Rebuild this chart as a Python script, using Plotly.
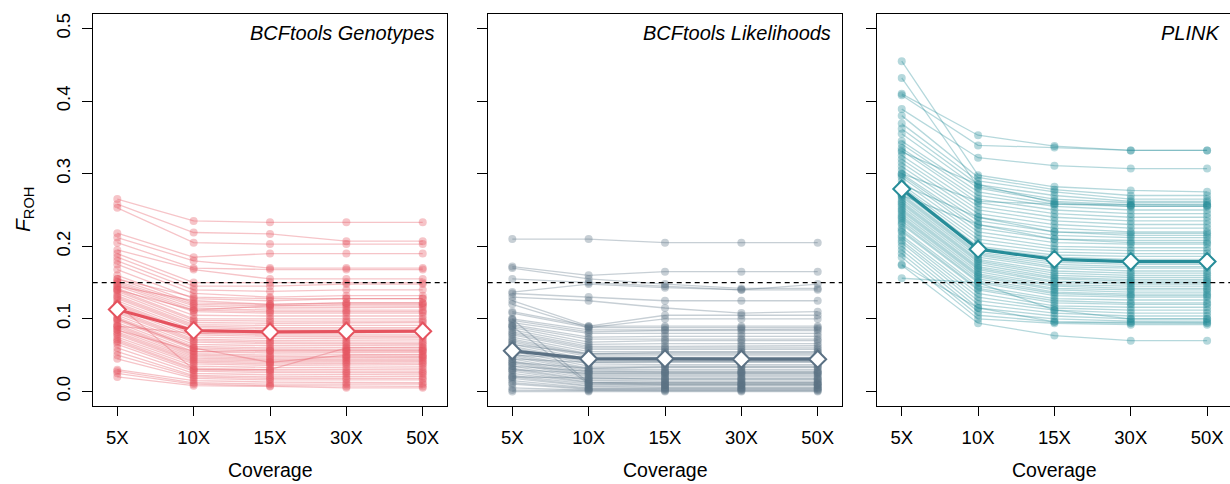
import plotly.graph_objects as go

coverage = ["5X", "10X", "15X", "30X", "50X"]
panel_titles = ["BCFtools Genotypes", "BCFtools Likelihoods", "PLINK"]
panel_colors = ["#E5535F", "#5B7184", "#278D99"]
threshold = 0.15

# ---- BCFtools Genotypes (per individual, one value per coverage) ----
gt_5x = [0.265, 0.258, 0.253, 0.218, 0.212, 0.205, 0.195, 0.190, 0.185, 0.180,
         0.175, 0.168, 0.160, 0.155, 0.152, 0.150, 0.148, 0.145, 0.142, 0.140,
         0.138, 0.135, 0.132, 0.130, 0.128, 0.125, 0.122, 0.120, 0.118, 0.115,
         0.112, 0.110, 0.108, 0.105, 0.102, 0.100, 0.098, 0.095, 0.092, 0.090,
         0.088, 0.085, 0.082, 0.080, 0.078, 0.075, 0.072, 0.070, 0.068, 0.065,
         0.060, 0.055, 0.050, 0.045, 0.030, 0.028, 0.025, 0.020, 0.145, 0.155,
         0.140, 0.090, 0.100, 0.120, 0.085]
gt_10x = [0.235, 0.219, 0.205, 0.185, 0.180, 0.170, 0.168, 0.150, 0.145, 0.140,
          0.135, 0.128, 0.122, 0.120, 0.118, 0.115, 0.112, 0.110, 0.105, 0.100,
          0.098, 0.095, 0.092, 0.090, 0.088, 0.085, 0.082, 0.080, 0.078, 0.075,
          0.072, 0.070, 0.068, 0.065, 0.062, 0.060, 0.058, 0.055, 0.052, 0.050,
          0.048, 0.046, 0.044, 0.042, 0.040, 0.038, 0.035, 0.032, 0.030, 0.028,
          0.025, 0.022, 0.020, 0.018, 0.015, 0.012, 0.010, 0.008, 0.125, 0.130,
          0.112, 0.080, 0.060, 0.030, 0.055]
gt_15x = [0.233, 0.217, 0.203, 0.190, 0.170, 0.168, 0.155, 0.150, 0.145, 0.138,
          0.130, 0.125, 0.120, 0.118, 0.115, 0.112, 0.110, 0.108, 0.104, 0.100,
          0.097, 0.094, 0.091, 0.088, 0.086, 0.083, 0.080, 0.078, 0.076, 0.073,
          0.070, 0.068, 0.066, 0.063, 0.060, 0.058, 0.056, 0.053, 0.050, 0.048,
          0.046, 0.044, 0.042, 0.040, 0.038, 0.036, 0.033, 0.030, 0.028, 0.026,
          0.023, 0.020, 0.018, 0.016, 0.013, 0.010, 0.008, 0.007, 0.120, 0.128,
          0.118, 0.082, 0.040, 0.030, 0.056]
gt_30x = [0.233, 0.207, 0.203, 0.190, 0.170, 0.168, 0.155, 0.150, 0.148, 0.140,
          0.132, 0.128, 0.122, 0.118, 0.115, 0.112, 0.110, 0.108, 0.104, 0.100,
          0.097, 0.095, 0.091, 0.088, 0.086, 0.083, 0.081, 0.078, 0.076, 0.074,
          0.071, 0.068, 0.066, 0.064, 0.061, 0.058, 0.056, 0.054, 0.051, 0.048,
          0.047, 0.045, 0.043, 0.041, 0.039, 0.037, 0.034, 0.031, 0.028, 0.026,
          0.024, 0.021, 0.018, 0.016, 0.012, 0.010, 0.007, 0.005, 0.122, 0.128,
          0.120, 0.084, 0.050, 0.060, 0.056]
gt_50x = [0.233, 0.207, 0.203, 0.190, 0.170, 0.168, 0.155, 0.150, 0.148, 0.140,
          0.132, 0.128, 0.122, 0.118, 0.116, 0.112, 0.110, 0.108, 0.104, 0.100,
          0.097, 0.095, 0.091, 0.088, 0.086, 0.083, 0.081, 0.078, 0.076, 0.074,
          0.071, 0.068, 0.066, 0.064, 0.061, 0.058, 0.056, 0.054, 0.051, 0.048,
          0.047, 0.045, 0.043, 0.041, 0.039, 0.037, 0.034, 0.031, 0.028, 0.026,
          0.024, 0.021, 0.018, 0.016, 0.012, 0.010, 0.007, 0.005, 0.122, 0.128,
          0.120, 0.084, 0.050, 0.060, 0.056]
gt_mean = [0.113, 0.084, 0.082, 0.083, 0.083]

# ---- BCFtools Likelihoods ----
gl_5x = [0.210, 0.172, 0.170, 0.155, 0.137, 0.135, 0.130, 0.125, 0.120, 0.110,
         0.108, 0.100, 0.098, 0.095, 0.092, 0.090, 0.088, 0.085, 0.082, 0.080,
         0.078, 0.075, 0.072, 0.070, 0.068, 0.065, 0.062, 0.060, 0.058, 0.055,
         0.052, 0.050, 0.048, 0.045, 0.042, 0.040, 0.038, 0.035, 0.032, 0.030,
         0.028, 0.025, 0.022, 0.020, 0.018, 0.015, 0.012, 0.010, 0.005, 0.002,
         0.000, 0.065, 0.050, 0.045, 0.040, 0.035, 0.030, 0.100, 0.090, 0.020]
gl_10x = [0.210, 0.160, 0.155, 0.150, 0.148, 0.130, 0.125, 0.090, 0.088, 0.090,
          0.088, 0.085, 0.082, 0.080, 0.075, 0.072, 0.068, 0.065, 0.062, 0.060,
          0.058, 0.055, 0.052, 0.050, 0.048, 0.045, 0.042, 0.040, 0.038, 0.035,
          0.032, 0.030, 0.028, 0.026, 0.024, 0.022, 0.020, 0.018, 0.016, 0.015,
          0.013, 0.012, 0.010, 0.008, 0.007, 0.005, 0.004, 0.003, 0.002, 0.001,
          0.000, 0.052, 0.045, 0.040, 0.032, 0.028, 0.025, 0.012, 0.010, 0.018]
gl_15x = [0.205, 0.165, 0.148, 0.145, 0.143, 0.125, 0.115, 0.105, 0.100, 0.090,
          0.088, 0.085, 0.084, 0.080, 0.076, 0.072, 0.070, 0.066, 0.062, 0.060,
          0.058, 0.055, 0.052, 0.050, 0.047, 0.044, 0.042, 0.040, 0.037, 0.035,
          0.033, 0.030, 0.028, 0.026, 0.024, 0.022, 0.020, 0.018, 0.016, 0.014,
          0.012, 0.010, 0.009, 0.008, 0.006, 0.005, 0.004, 0.003, 0.002, 0.001,
          0.000, 0.054, 0.046, 0.041, 0.034, 0.027, 0.025, 0.012, 0.010, 0.017]
gl_30x = [0.205, 0.165, 0.142, 0.140, 0.140, 0.125, 0.108, 0.105, 0.100, 0.090,
          0.088, 0.086, 0.084, 0.080, 0.076, 0.072, 0.070, 0.066, 0.063, 0.060,
          0.058, 0.055, 0.052, 0.050, 0.047, 0.044, 0.042, 0.040, 0.037, 0.035,
          0.033, 0.030, 0.028, 0.026, 0.024, 0.022, 0.020, 0.018, 0.016, 0.014,
          0.012, 0.010, 0.009, 0.008, 0.006, 0.005, 0.004, 0.003, 0.002, 0.001,
          0.000, 0.054, 0.046, 0.041, 0.034, 0.027, 0.025, 0.012, 0.010, 0.017]
gl_50x = [0.205, 0.165, 0.142, 0.148, 0.140, 0.125, 0.110, 0.105, 0.100, 0.090,
          0.088, 0.086, 0.084, 0.080, 0.076, 0.072, 0.070, 0.066, 0.063, 0.060,
          0.058, 0.055, 0.052, 0.050, 0.047, 0.044, 0.042, 0.040, 0.037, 0.035,
          0.033, 0.030, 0.028, 0.026, 0.024, 0.022, 0.020, 0.018, 0.016, 0.014,
          0.012, 0.010, 0.009, 0.008, 0.006, 0.005, 0.004, 0.003, 0.002, 0.001,
          0.000, 0.054, 0.046, 0.041, 0.034, 0.027, 0.025, 0.012, 0.010, 0.017]
gl_mean = [0.056, 0.045, 0.045, 0.0445, 0.0445]

# ---- PLINK ----
pl_5x = [0.455, 0.432, 0.410, 0.408, 0.389, 0.380, 0.369, 0.362, 0.355, 0.345,
         0.341, 0.335, 0.332, 0.325, 0.320, 0.315, 0.310, 0.305, 0.300, 0.298,
         0.295, 0.290, 0.285, 0.282, 0.280, 0.278, 0.275, 0.272, 0.270, 0.268,
         0.265, 0.262, 0.260, 0.258, 0.255, 0.252, 0.250, 0.248, 0.245, 0.242,
         0.240, 0.238, 0.235, 0.232, 0.230, 0.225, 0.222, 0.220, 0.215, 0.212,
         0.208, 0.205, 0.200, 0.195, 0.190, 0.185, 0.174, 0.156, 0.175, 0.300,
         0.330, 0.285, 0.270]
pl_10x = [0.298, 0.282, 0.353, 0.339, 0.322, 0.295, 0.290, 0.285, 0.280, 0.275,
          0.270, 0.265, 0.260, 0.255, 0.250, 0.245, 0.240, 0.235, 0.230, 0.225,
          0.220, 0.215, 0.210, 0.205, 0.200, 0.198, 0.195, 0.192, 0.190, 0.188,
          0.185, 0.182, 0.180, 0.178, 0.175, 0.172, 0.170, 0.168, 0.165, 0.162,
          0.160, 0.158, 0.155, 0.152, 0.150, 0.145, 0.142, 0.140, 0.135, 0.130,
          0.125, 0.120, 0.115, 0.110, 0.105, 0.100, 0.094, 0.150, 0.115, 0.262,
          0.285, 0.240, 0.230]
pl_15x = [0.282, 0.265, 0.338, 0.336, 0.311, 0.278, 0.275, 0.270, 0.262, 0.258,
          0.255, 0.250, 0.245, 0.240, 0.235, 0.230, 0.225, 0.220, 0.215, 0.210,
          0.205, 0.200, 0.196, 0.192, 0.188, 0.185, 0.182, 0.178, 0.175, 0.172,
          0.170, 0.166, 0.163, 0.160, 0.157, 0.155, 0.152, 0.150, 0.147, 0.145,
          0.142, 0.140, 0.137, 0.135, 0.132, 0.128, 0.125, 0.122, 0.118, 0.115,
          0.112, 0.108, 0.104, 0.100, 0.096, 0.094, 0.077, 0.112, 0.096, 0.258,
          0.260, 0.220, 0.210]
pl_30x = [0.277, 0.260, 0.332, 0.332, 0.307, 0.270, 0.265, 0.262, 0.257, 0.255,
          0.250, 0.245, 0.240, 0.235, 0.230, 0.225, 0.220, 0.215, 0.212, 0.208,
          0.203, 0.198, 0.194, 0.190, 0.186, 0.182, 0.178, 0.175, 0.172, 0.170,
          0.166, 0.163, 0.160, 0.157, 0.154, 0.152, 0.150, 0.148, 0.145, 0.142,
          0.140, 0.137, 0.134, 0.132, 0.130, 0.126, 0.122, 0.120, 0.116, 0.112,
          0.108, 0.104, 0.100, 0.097, 0.094, 0.092, 0.070, 0.100, 0.095, 0.257,
          0.255, 0.218, 0.205]
pl_50x = [0.275, 0.260, 0.332, 0.332, 0.307, 0.270, 0.265, 0.262, 0.257, 0.255,
          0.250, 0.245, 0.240, 0.235, 0.230, 0.225, 0.220, 0.215, 0.212, 0.208,
          0.203, 0.198, 0.194, 0.190, 0.186, 0.182, 0.178, 0.175, 0.172, 0.170,
          0.166, 0.163, 0.160, 0.157, 0.154, 0.152, 0.150, 0.148, 0.145, 0.142,
          0.140, 0.137, 0.134, 0.132, 0.130, 0.126, 0.122, 0.120, 0.116, 0.112,
          0.108, 0.104, 0.100, 0.097, 0.094, 0.092, 0.070, 0.100, 0.095, 0.257,
          0.255, 0.218, 0.205]
pl_mean = [0.279, 0.196, 0.182, 0.179, 0.179]

panels = [
    ([gt_5x, gt_10x, gt_15x, gt_30x, gt_50x], gt_mean),
    ([gl_5x, gl_10x, gl_15x, gl_30x, gl_50x], gl_mean),
    ([pl_5x, pl_10x, pl_15x, pl_30x, pl_50x], pl_mean),
]

W, H = 1230, 484
FONT = "Liberation Sans, Arial, Helvetica, sans-serif"


def rgba(hexc, a):
    h = hexc.lstrip("#")
    r, g, b = int(h[0:2], 16), int(h[2:4], 16), int(h[4:6], 16)
    return f"rgba({r},{g},{b},{a})"


# panel geometry in pixels
px_left = [92.7, 487.7, 877.3]
px_right = [446.7, 842.3, 1230.0]
xranges = [[0.678, 5.314], [0.678, 5.322], [0.680, 5.300]]
top_px, bot_px = 14, 406
ydom = [(H - bot_px) / H, (H - top_px) / H]

fig = go.Figure()
xpos = [1, 2, 3, 4, 5]

for p, (cols, means) in enumerate(panels):
    color = panel_colors[p]
    ax = "" if p == 0 else str(p + 1)
    n = len(cols[0])
    for i in range(n):
        yv = [cols[k][i] for k in range(5)]
        fig.add_trace(go.Scatter(
            x=xpos, y=yv, mode="lines+markers",
            line=dict(color=rgba(color, 0.34), width=1.3),
            marker=dict(color=rgba(color, 0.34), size=8, line=dict(width=0)),
            xaxis="x" + ax, yaxis="y" + ax, showlegend=False, hoverinfo="skip",
        ))
    # threshold line
    fig.add_trace(go.Scatter(
        x=[xranges[p][0], xranges[p][1]], y=[threshold, threshold], mode="lines",
        line=dict(color="black", width=1.3, dash="5px,4px"),
        xaxis="x" + ax, yaxis="y" + ax, showlegend=False, hoverinfo="skip",
    ))
    # mean line
    fig.add_trace(go.Scatter(
        x=xpos, y=means, mode="lines+markers",
        line=dict(color=color, width=3.2),
        marker=dict(symbol="diamond", size=13, color="white",
                    line=dict(color=color, width=2)),
        xaxis="x" + ax, yaxis="y" + ax, showlegend=False, hoverinfo="skip",
    ))

layout = dict(
    width=W, height=H, autosize=False,
    margin=dict(l=0, r=0, t=0, b=0),
    paper_bgcolor="white", plot_bgcolor="white",
    font=dict(family=FONT, size=18, color="black"),
    annotations=[],
)

for p in range(3):
    ax = "" if p == 0 else str(p + 1)
    layout["xaxis" + ax] = dict(
        domain=[px_left[p] / W, px_right[p] / W],
        range=xranges[p], tickvals=xpos, ticktext=coverage,
        ticks="outside", ticklen=9, tickwidth=1, tickcolor="black",
        showline=True, linecolor="black", linewidth=1.3, mirror=True,
        showgrid=False, zeroline=False, anchor="y" + ax,
        tickfont=dict(size=18.5, family=FONT), ticklabelstandoff=6,
    )
    layout["yaxis" + ax] = dict(
        domain=ydom, range=[-0.02, 0.52],
        tickvals=[0, 0.1, 0.2, 0.3, 0.4, 0.5],
        ticktext=["0.0", "0.1", "0.2", "0.3", "0.4", "0.5"],
        showticklabels=(p == 0), tickangle=-90,
        ticks="outside", ticklen=10, tickwidth=1, tickcolor="black",
        showline=True, linecolor="black", linewidth=1.3, mirror=(p < 2),
        showgrid=False, zeroline=False, anchor="x" + ax,
        tickfont=dict(size=18.5, family=FONT), ticklabelstandoff=4,
    )
    layout["annotations"].append(dict(
        text=f"<i>{panel_titles[p]}</i>", xref="paper", yref="paper",
        x=(px_right[p] - 9.5 if p < 2 else 1221.7) / W, y=1 - 32.7 / H,
        xanchor="right", yanchor="middle", showarrow=False,
        font=dict(size=20, family=FONT, color="black"),
    ))
    layout["annotations"].append(dict(
        text="Coverage", xref="paper", yref="paper",
        x=(px_left[p] + 24.6 + 152.7) / W, y=(H - 470) / H,
        xanchor="center", yanchor="middle", showarrow=False,
        font=dict(size=19.5, family=FONT, color="black"),
    ))

layout["annotations"].append(dict(
    text="<i>F</i><sub>ROH</sub>", xref="paper", yref="paper",
    x=24 / W, y=(H - 210) / H, textangle=-90,
    xanchor="center", yanchor="middle", showarrow=False,
    font=dict(size=21, family=FONT, color="black"),
))

fig.update_layout(**layout)
fig.write_html(
    "out.html",
    config={"displayModeBar": False},
    post_script="document.body.style.margin='0';document.body.style.padding='0';",
)
